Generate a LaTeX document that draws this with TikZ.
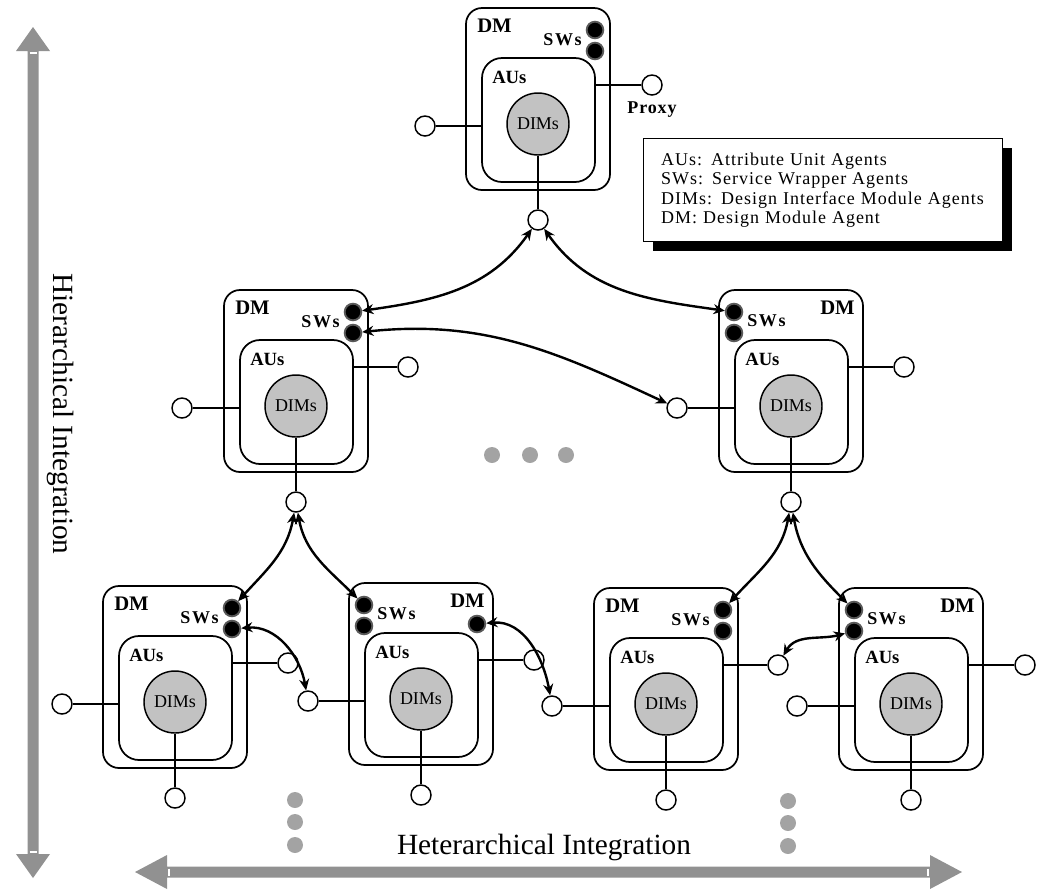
\documentclass[tikz,border=0pt]{standalone}
\usepackage{fontspec}
\setmainfont{Liberation Serif}
\newfontfamily\spacedfont[LetterSpace=9]{Liberation Serif}
\newfontfamily\proxyfont[LetterSpace=5]{Liberation Serif}
\newfontfamily\legendfont[LetterSpace=5.5]{Liberation Serif}
\usetikzlibrary{arrows.meta,shadows}

\definecolor{dimfill}{gray}{0.76}
\definecolor{swrim}{gray}{0.35}
\definecolor{bandgray}{gray}{0.57}
\definecolor{dotgray}{gray}{0.64}

\tikzset{
  dmbox/.style={draw, line width=1.3pt, rounded corners=12pt, minimum width=108pt,
    minimum height=136.5pt, inner sep=0pt},
  aubox/.style={draw, line width=1.3pt, rounded corners=15pt, minimum width=84.75pt,
    minimum height=93pt, inner sep=0pt},
  dims/.style={circle, draw, line width=1.1pt, fill=dimfill, minimum size=46.5pt,
    inner sep=0pt, font=\fontsize{13.5}{15}\selectfont},
  swdot/.style={circle, fill=black, draw=swrim, line width=1.4pt, minimum size=12.5pt,
    inner sep=0pt},
  port/.style={circle, draw, line width=1.1pt, fill=white, minimum size=15pt, inner sep=0pt},
  wire/.style={line width=1.1pt},
  link/.style={line width=1.8pt, {Stealth[length=8.5pt,width=7.5pt]}-{Stealth[length=8.5pt,width=7.5pt]}},
  dmlabel/.style={inner sep=0pt, font=\fontsize{15.5}{17}\selectfont\bfseries},
  swlabel/.style={inner sep=0pt, font=\spacedfont\fontsize{13.5}{15}\selectfont\bfseries},
  aulabel/.style={inner sep=0pt, font=\fontsize{14}{16}\selectfont\bfseries},
  proxylabel/.style={inner sep=0pt, font=\proxyfont\fontsize{13.5}{15}\selectfont\bfseries},
  bigtext/.style={inner sep=0pt, font=\fontsize{22}{26}\selectfont},
  legendbox/.style={draw, line width=1pt, fill=white, minimum width=269.25pt,
    minimum height=77.25pt, text width=243pt, align=left, inner xsep=12.75pt,
    font=\legendfont\fontsize{13.5}{14.6}\selectfont,
    drop shadow={shadow xshift=6.75pt, shadow yshift=-6.75pt, opacity=1, fill=black}},
  moredots/.style={fill=dotgray},
  band/.style={fill=bandgray},
  bandnotch/.style={draw=white, line width=1pt}
}

% #1 name, #2 left x, #3 top y, #4 0 = SWs on the right / 1 = SWs on the left,
% #5 x of the left port, #6 x of the right port
\newcommand{\designmodule}[6]{%
  \node[dmbox] (#1) at ({#2+72},{#3+91}) {};
  \node[aubox] (#1-au) at ({#2+72.5},{#3+112}) {};
  \node[dims] (#1-dims) at ({#2+72},{#3+116}) {DIMs};
  \ifnum#4=0
    \node[swdot] (#1-s1) at ({#2+129},{#3+22}) {};
    \node[swdot] (#1-s2) at ({#2+129},{#3+43}) {};
    \node[dmlabel, anchor=west] (#1-dmname) at ({#2+11},{#3+18}) {DM};
    \node[swlabel, anchor=east] (#1-swname) at ({#2+116},{#3+32}) {SWs};
  \else
    \node[swdot] (#1-s1) at ({#2+15},{#3+22}) {};
    \node[swdot] (#1-s2) at ({#2+15},{#3+43}) {};
    \node[dmlabel, anchor=east] (#1-dmname) at ({#2+136},{#3+18}) {DM};
    \node[swlabel, anchor=west] (#1-swname) at ({#2+28},{#3+31}) {SWs};
  \fi
  \node[aulabel, anchor=west] (#1-auname) at ({#2+26},{#3+69}) {AUs};
  \node[port] (#1-l) at (#5,{#3+118}) {};
  \node[port] (#1-r) at (#6,{#3+77}) {};
  \node[port] (#1-b) at ({#2+72},{#3+212}) {};
  \draw[wire] (#1-l) -- (#1-l -| #1-au.west);
  \draw[wire] (#1-r) -- (#1-r -| #1-au.east);
  \draw[wire] (#1-dims) -- (#1-b);
}

\begin{document}
\begin{tikzpicture}[x=0.75pt, y=-0.75pt]
\useasboundingbox (0,0) rectangle (1039,890);

% integration axes
\fill[band] (33,27) -- (50,51) -- (38.5,51) -- (38.5,854) -- (50,854) -- (33,878)
  -- (16,854) -- (27.5,854) -- (27.5,51) -- (16,51) -- cycle;
\draw[bandnotch] (29.5,53) -- (36.5,53);
\draw[bandnotch] (29.5,852) -- (36.5,852);
\fill[band] (135,872) -- (167,855) -- (167,866.5) -- (930,866.5) -- (930,855) -- (962,872)
  -- (930,889) -- (930,877.5) -- (167,877.5) -- (167,889) -- cycle;
\draw[bandnotch] (169,868.5) -- (169,875.5);
\draw[bandnotch] (928,868.5) -- (928,875.5);
\node[bigtext, rotate=-90] (hier) at (61,414) {Hierarchical Integration};
\node[bigtext] (heter) at (544,847) {Heterarchical Integration};

% design modules
\designmodule{top}{466}{8}{0}{425}{652}
\designmodule{ml}{224}{290}{0}{182}{408}
\designmodule{mr}{719}{290}{1}{677}{904}
\designmodule{bA}{103}{586}{0}{62}{288}
\designmodule{bB}{349}{583}{1}{308}{534}
\designmodule{bC}{594}{588}{0}{552}{778}
\designmodule{bD}{839}{588}{1}{797}{1025}
\node[swdot] (bB-x) at (477,624) {};
\node[proxylabel, anchor=base] (proxy) at (652,113) {Proxy};

% legend
\node[legendbox, anchor=north west] (legend) at (643,138)
  {AUs: Attribute Unit Agents\\SWs: Service Wrapper Agents\\
   DIMs: Design Interface Module Agents\\DM: Design Module Agent};

% links between modules
\draw[link] (top-b) to[out=235, in=8] (ml-s1);
\draw[link] (top-b) to[out=-55, in=172] (mr-s1);
\draw[link] (ml-s2) to[out=6, in=155] (mr-l);
\draw[link] (ml-b) to[out=-100, in=48] (bA-s1);
\draw[link] (ml-b) to[out=-80, in=135] (bB-s1);
\draw[link] (mr-b) to[out=-100, in=48] (bC-s1);
\draw[link] (mr-b) to[out=-80, in=135] (bD-s1);
\draw[link] (bA-s2) to[out=5, in=100] (bB-l);
\draw[link] (bB-x) to[out=5, in=100] (bC-l);
\draw[link] (bC-r) to[out=60, in=195] (bD-s2);

% further modules
\foreach \px in {492,530,566} \fill[moredots] (\px,455) circle (8);
\foreach \py in {800,822,845} {
  \fill[moredots] (295,\py) circle (8);
  \fill[moredots] (788,{\py+1}) circle (8);
}
\end{tikzpicture}
\end{document}
